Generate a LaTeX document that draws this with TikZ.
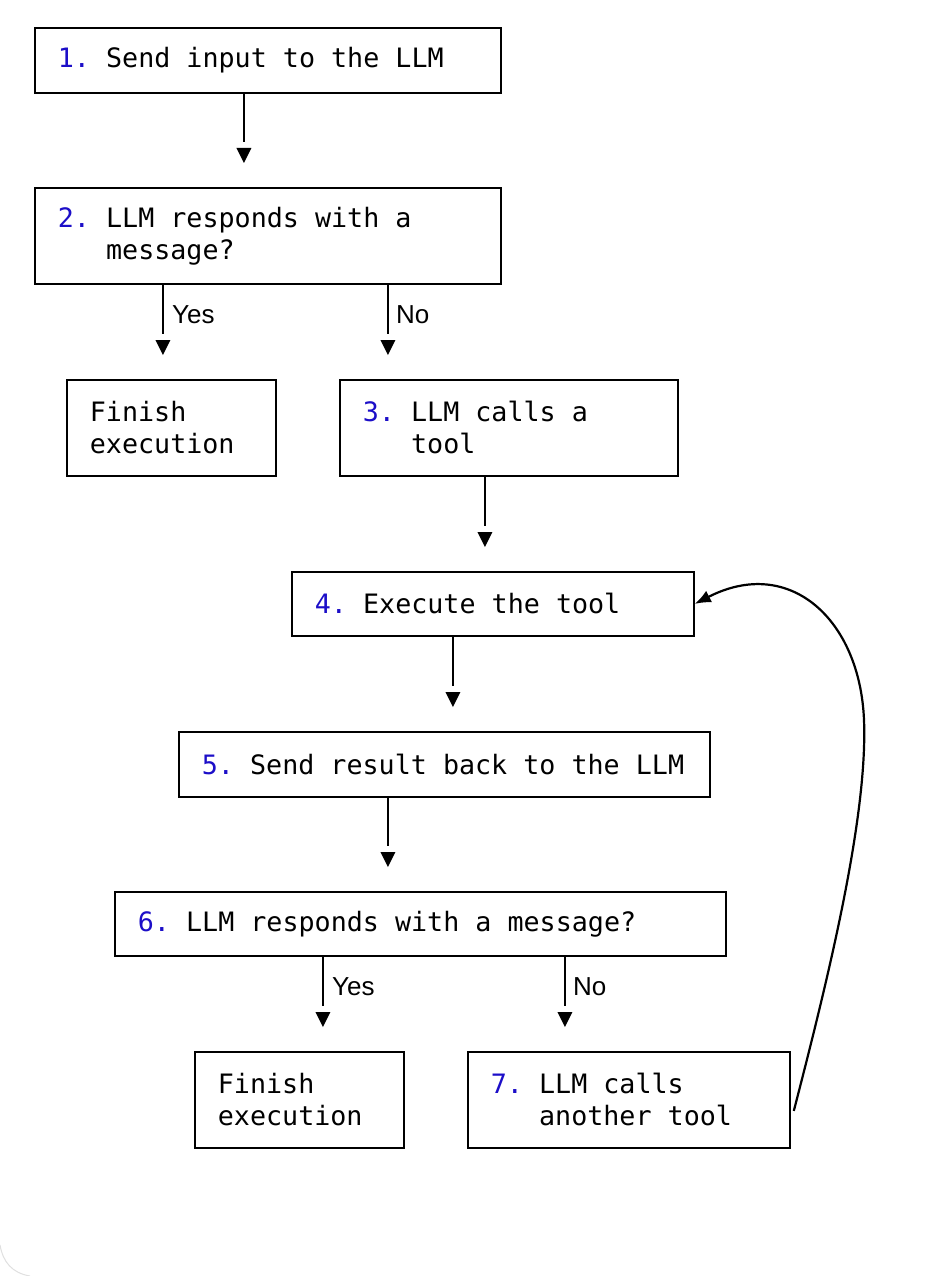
\documentclass[tikz,border=0pt]{standalone}
\usepackage{fontspec}
\newfontfamily\monofont{DejaVu Sans Mono}
\newfontfamily\labfont{Liberation Sans}
\usetikzlibrary{arrows.meta}
\definecolor{numblue}{RGB}{28,14,200}
\newcommand{\nb}[1]{\textcolor{numblue}{#1}}
\newcommand{\monosize}{\monofont\fontsize{26.7pt}{32pt}\selectfont}
\newcommand{\spc}{\hspace{0.602em}}
\newcommand{\hang}{\hspace*{1.806em}}
\begin{document}
\begin{tikzpicture}[x=1pt,y=-1pt,
  box/.style={draw=black, line width=1.8pt, inner xsep=23pt, inner ysep=0pt,
    align=left, anchor=north west, font=\monosize},
  connline/.style={line width=1.8pt, shorten >=45pt},
  lab/.style={anchor=base west, inner sep=0pt, font=\labfont\fontsize{26pt}{30pt}\selectfont}]
\useasboundingbox (0,0) rectangle (944,1276);
\fill[white] (0,0) rectangle (944,1276);
\draw[black!12, line width=1pt] (0,1245) .. controls (3,1262) and (12,1273) .. (30,1276);

\node[box, minimum width=466pt, minimum height=65pt, text width=420pt] (b1) at (34,27)
  {\nb{1.}\spc Send\spc input\spc to\spc the\spc LLM};
\node[box, minimum width=466pt, minimum height=96pt, text width=420pt] (b2) at (34,187)
  {\nb{2.}\spc LLM\spc responds\spc with\spc a\\\hang message?};
\node[box, minimum width=209pt, minimum height=96pt, text width=163pt] (f1) at (66,379)
  {Finish\\execution};
\node[box, minimum width=338pt, minimum height=96pt, text width=292pt] (b3) at (339,379)
  {\nb{3.}\spc LLM\spc calls\spc a\\\hang tool};
\node[box, minimum width=402pt, minimum height=64pt, text width=356pt] (b4) at (291,571)
  {\nb{4.}\spc Execute\spc the\spc tool};
\node[box, minimum width=531pt, minimum height=65pt, text width=485pt] (b5) at (178,731)
  {\nb{5.}\spc Send\spc result\spc back\spc to\spc the\spc LLM};
\node[box, minimum width=611pt, minimum height=64pt, text width=565pt] (b6) at (114,891)
  {\nb{6.}\spc LLM\spc responds\spc with\spc a\spc message?};
\node[box, minimum width=209pt, minimum height=96pt, text width=163pt] (f2) at (194,1051)
  {Finish\\execution};
\node[box, minimum width=322pt, minimum height=96pt, text width=276pt] (b7) at (467,1051)
  {\nb{7.}\spc LLM\spc calls\\\hang another\spc tool};

\coordinate (a1) at ([xshift=-24pt]b1.south);
\coordinate (a2) at ([xshift=-105pt]b2.south);
\coordinate (a3) at ([xshift=120pt]b2.south);
\coordinate (a4) at ([xshift=-24pt]b3.south);
\coordinate (a5) at ([xshift=-40pt]b4.south);
\coordinate (a6) at ([xshift=-56.5pt]b5.south);
\coordinate (a7) at ([xshift=-97.5pt]b6.south);
\coordinate (a8) at ([xshift=144.5pt]b6.south);

\foreach \s/\t in {a1/b2, a2/f1, a3/b3, a4/b4, a5/b5, a6/b6, a7/f2, a8/b7}{
  \coordinate (e) at (\s |- \t.north);
  \draw[connline] (\s) -- (e);
  \fill ([xshift=-7.5pt,yshift=39pt]e) -- ([xshift=7.5pt,yshift=39pt]e) -- ([yshift=24pt]e) -- cycle;
}

\node[lab] (y1) at (172,323) {Yes};
\node[lab] (n1) at (396,323) {No};
\node[lab] (y2) at (332,995) {Yes};
\node[lab] (n2) at (573,995) {No};

\coordinate (cs) at ([xshift=3pt,yshift=-11pt]b7.east);
\draw[line width=2.2pt, -{Latex[length=16pt,width=13pt]}]
  (cs) .. controls (825,990) and (868,820) .. (864,720)
       .. controls (860,620) and (790,555) .. (b4.east);
\end{tikzpicture}
\end{document}
